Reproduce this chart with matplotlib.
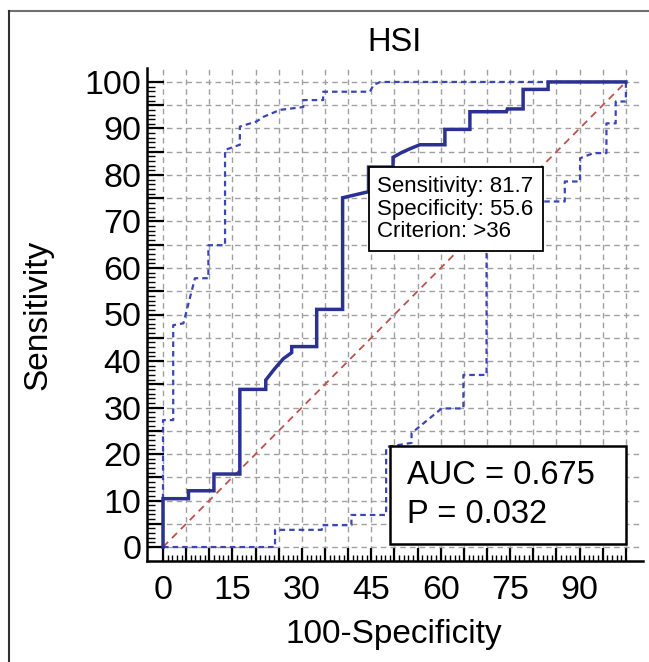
import numpy as np
import matplotlib
matplotlib.use('Agg')
import matplotlib.pyplot as plt
from matplotlib.lines import Line2D
from matplotlib.patches import Rectangle
from matplotlib.ticker import MultipleLocator, FixedLocator, FuncFormatter

plt.rcParams['font.family'] = ['Liberation Sans', 'DejaVu Sans']

# ROC curve: 100-specificity vs sensitivity
roc_x = [0, 0, 5.5, 5.5, 11, 11, 16.6, 16.6, 22.2, 22.2, 24, 26, 27.8, 27.8, 33.2, 33.2,
         38.8, 38.8, 44.4, 44.4, 49.7, 49.7, 51.5, 53.5, 55.5, 60.9, 60.9, 66.3, 66.3,
         74.2, 74.4, 77.8, 77.8, 83.2, 83.2, 100]
roc_y = [0, 10.4, 10.4, 12.1, 12.1, 15.7, 15.7, 33.9, 33.9, 35.9, 38.2, 40.5, 41.8, 43.1,
         43.1, 51.1, 51.1, 75.1, 76.4, 81.7, 81.7, 83.8, 84.8, 85.7, 86.5, 86.5, 89.8,
         89.8, 93.6, 93.6, 94.2, 94.2, 98.4, 98.4, 100, 100]

# upper 95% confidence bound
upper_x = [0, 0, 2.2, 2.2, 4.4, 6.9, 9.8, 9.8, 13.4, 13.4, 16.6, 16.6, 20.2, 21.7, 25.3,
           30.3, 30.3, 34.6, 34.6, 44.7, 45.5, 47, 100]
upper_y = [0, 27.3, 27.3, 47.7, 48.1, 57.8, 57.8, 64.9, 64.9, 85.4, 86.5, 90.4, 91.5, 92.5,
           94.0, 94.6, 96.1, 96.1, 97.9, 97.9, 99.4, 100, 100]

# lower 95% confidence bound
lower_x = [0, 24.2, 24.2, 34.3, 34.3, 40.7, 40.7, 48.2, 48.2, 53.7, 53.7, 60.2, 64.9, 64.9,
           69.9, 69.9, 86.8, 86.8, 90.1, 90.1, 93, 95.8, 95.8, 97.8, 97.8, 100, 100]
lower_y = [0, 0, 3.7, 3.7, 4.7, 4.7, 6.9, 6.9, 21.5, 22.4, 24.5, 29.8, 29.8, 37, 37, 74.3,
           74.3, 78.6, 78.6, 83.6, 84.7, 84.7, 91.1, 91.1, 95.8, 95.8, 100]

# optimal cut-off and summary
cut_sens = 81.7
cut_spec = 55.6
criterion = '>36'
auc = 0.675
p_value = 0.032

x_labels = [0, 15, 30, 45, 60, 75, 90]
y_labels = [0, 10, 20, 30, 40, 50, 60, 70, 80, 90, 100]

W, H = 649, 662
fig = plt.figure(figsize=(W / 100, H / 100), dpi=100)
ax = fig.add_axes([147 / W, 1 - 561 / H, 496 / W, 493 / H])

ax.set_xlim(-3.46, 103.7)
ax.set_ylim(-3.0, 103.0)

ax.xaxis.set_major_locator(MultipleLocator(5))
ax.yaxis.set_major_locator(MultipleLocator(5))
minor = [v for v in range(0, 101) if v % 5]
ax.xaxis.set_minor_locator(FixedLocator(minor))
ax.yaxis.set_minor_locator(FixedLocator(minor))
ax.xaxis.set_major_formatter(FuncFormatter(lambda v, p: f'{v:.0f}' if round(v) in x_labels else ''))
ax.yaxis.set_major_formatter(FuncFormatter(lambda v, p: f'{v:.0f}' if round(v) in y_labels else ''))

ax.tick_params(axis='both', which='both', direction='in', colors='black', labelsize=24.5)
ax.tick_params(axis='y', which='major', length=12, width=1.6, pad=4)
ax.tick_params(axis='y', which='minor', length=6, width=1.0)
ax.tick_params(axis='x', which='major', length=9.5, width=1.6, pad=10)
ax.tick_params(axis='x', which='minor', length=4, width=1.0)

for s in ['top', 'right']:
    ax.spines[s].set_visible(False)
for s in ['left', 'bottom']:
    ax.spines[s].set_linewidth(1.8)

ax.grid(True, which='major', color='#a0a0a0', linestyle=(0, (4, 3)), linewidth=1.0, zorder=0)
ax.set_axisbelow(True)

# reference diagonal
ax.plot([0, 100], [0, 100], color='#c0504d', linestyle=(0, (4, 3)), linewidth=1.3, zorder=2)
# confidence bounds
ax.plot(upper_x, upper_y, color='#3b45b5', linestyle=(0, (2.5, 1.8)), linewidth=1.6, zorder=3)
ax.plot(lower_x, lower_y, color='#3b45b5', linestyle=(0, (2.5, 1.8)), linewidth=1.6, zorder=3)
# ROC curve
ax.plot(roc_x, roc_y, color='#2b3192', linewidth=2.5, solid_joinstyle='miter', zorder=4)

# cut-off box anchored at the optimal point
ax.annotate(f'Sensitivity: {cut_sens}\nSpecificity: {cut_spec}\nCriterion: {criterion}',
            xy=(100 - cut_spec, cut_sens), xytext=(6.4, -6.4), textcoords='offset points',
            ha='left', va='top', fontsize=16, linespacing=1.1, zorder=6,
            bbox=dict(boxstyle='square,pad=0.4', facecolor='white', edgecolor='black', linewidth=1.3))

# AUC box
ax.add_patch(Rectangle((0.49, 0.0345), 0.4757, 0.1988, transform=ax.transAxes,
                       facecolor='white', edgecolor='black', linewidth=1.8, zorder=6))
ax.text(0.5236, 0.1744, f'AUC = {auc}', transform=ax.transAxes, fontsize=23.5,
        ha='left', va='center', zorder=7)
ax.text(0.5236, 0.0953, f'P = {p_value}', transform=ax.transAxes, fontsize=23.5,
        ha='left', va='center', zorder=7)

ax.set_title('HSI', fontsize=23.5, pad=12)
ax.set_xlabel('100-Specificity', fontsize=24, va='center')
ax.xaxis.set_label_coords(0.498, (561 - 635) / 493)
ax.set_ylabel('Sensitivity', fontsize=24, va='center')
ax.yaxis.set_label_coords((38 - 147) / 496, 0.5)

# outer frame of the figure
fig.add_artist(Line2D([9 / W, 1], [1 - 11 / H] * 2, transform=fig.transFigure, color='#707070', lw=1.5))
fig.add_artist(Line2D([9 / W] * 2, [0, 1 - 11 / H], transform=fig.transFigure, color='#303030', lw=1.5))

fig.savefig('out.png', dpi=100)
